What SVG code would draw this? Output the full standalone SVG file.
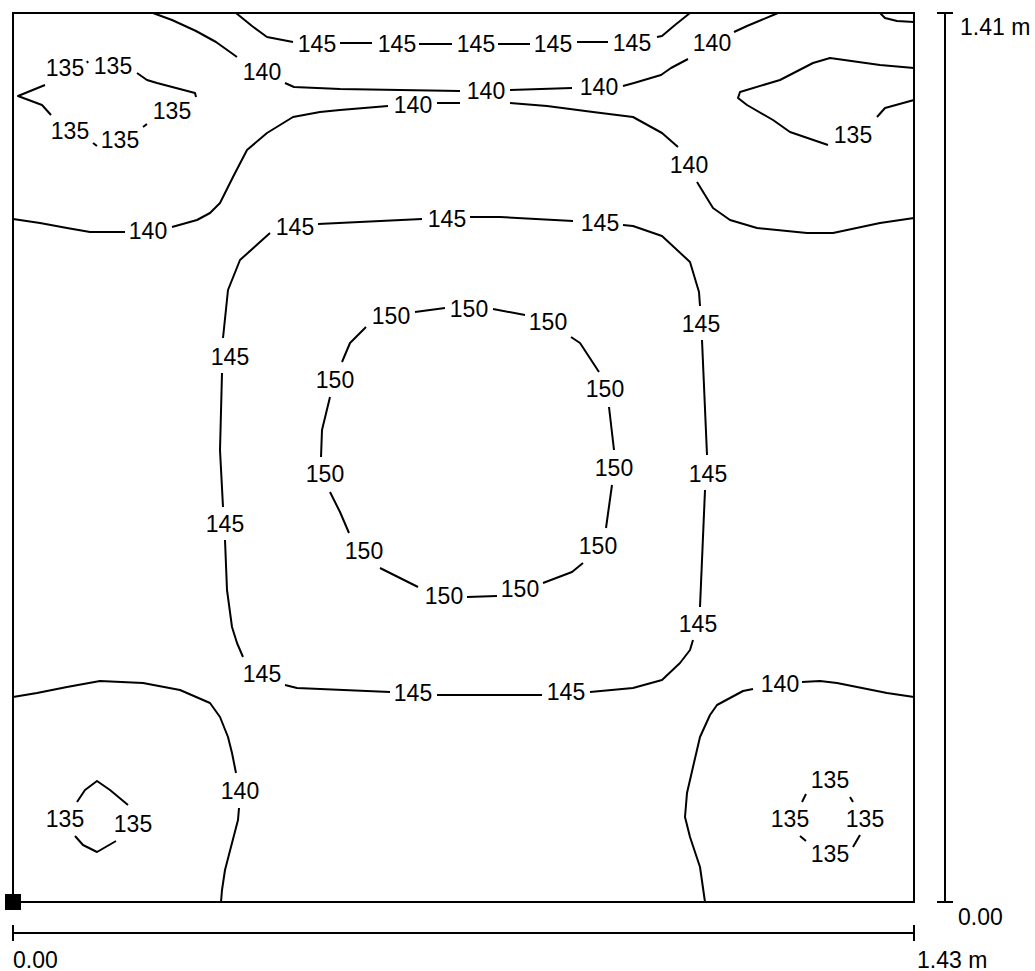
<svg xmlns="http://www.w3.org/2000/svg" width="1035" height="971" viewBox="0 0 1035 971">
<style>
.c{fill:none;stroke:#000;stroke-width:2;stroke-linejoin:round;stroke-linecap:butt}
.f{fill:none;stroke:#000;stroke-width:2}
text{font-family:"Liberation Sans",Arial,sans-serif;font-size:23px;fill:#000}
.l{text-anchor:middle}
</style>
<rect width="1035" height="971" fill="#fff"/>
<g id="frame">
<rect class="f" x="13" y="13" width="901" height="889"/>
<rect x="5" y="894" width="16" height="16" fill="#000"/>
</g>
<g id="contours">
<polyline class="c" points="153,13 172,20 196,31 216,42 237,57"/>
<polyline class="c" points="285,83 294,87 340,89 460,91"/>
<polyline class="c" points="510,90 572,88"/>
<polyline class="c" points="623,86 634,83 661,75 671,68 688,59"/>
<polyline class="c" points="734,32 747,26 778,13"/>
<polyline class="c" points="236,13 252,26 267,37 293,42"/>
<polyline class="c" points="340,43 372,43"/>
<polyline class="c" points="419,44 452,44"/>
<polyline class="c" points="498,44 530,44"/>
<polyline class="c" points="577,42 608,42"/>
<polyline class="c" points="657,37 662,36 675,25 690,13"/>
<polyline class="c" points="880,13 885,18 897,21 914,22"/>
<polyline class="c" points="13,219 40,223 67,228 90,232 125,232"/>
<polyline class="c" points="172,227 197,220 210,213 220,203 233,177 247,150 267,133 293,117 320,112 340,110 388,106"/>
<polyline class="c" points="437,103 460,103"/>
<polyline class="c" points="510,103 547,106 593,112 633,117 662,133 678,147"/>
<polyline class="c" points="697,182 705,195 713,208 730,220 757,228 807,233 833,233 880,223 914,218"/>
<polyline class="c" points="914,68 880,65 830,58 813,63 780,80 740,92 738,98 747,105 773,120 790,132 828,145"/>
<polyline class="c" points="877,117 885,108 914,100"/>
<polyline class="c" points="45,85 18,96 42,105 51,115"/>
<polyline class="c" points="87,61 88,63"/>
<polyline class="c" points="137,73 147,80 157,83 195,93 196,97"/>
<polyline class="c" points="143,127 147,124"/>
<polyline class="c" points="93,143 97,146"/>
<polyline class="c" points="270,233 240,260 228,290 223,338"/>
<polyline class="c" points="222,373 220,450 223,507"/>
<polyline class="c" points="225,540 227,590 232,627 237,643 243,657"/>
<polyline class="c" points="285,685 297,688 390,692"/>
<polyline class="c" points="437,695 542,695"/>
<polyline class="c" points="590,692 633,688 662,680 680,663 690,650 693,640"/>
<polyline class="c" points="700,607 705,490"/>
<polyline class="c" points="707,455 702,340"/>
<polyline class="c" points="700,306 699,292 690,262 662,236 633,226 623,225"/>
<polyline class="c" points="573,221 500,217 470,217"/>
<polyline class="c" points="422,219 318,224"/>
<polyline class="c" points="366,327 350,343 342,362"/>
<polyline class="c" points="330,397 322,430 321,457"/>
<polyline class="c" points="330,492 340,512 349,533"/>
<polyline class="c" points="380,568 418,587"/>
<polyline class="c" points="467,597 497,596"/>
<polyline class="c" points="543,583 572,572 583,563"/>
<polyline class="c" points="606,528 612,485"/>
<polyline class="c" points="614,450 609,407"/>
<polyline class="c" points="599,372 580,343 571,337"/>
<polyline class="c" points="525,315 493,309"/>
<polyline class="c" points="445,308 415,312"/>
<polyline class="c" points="13,697 37,693 67,687 100,681 143,683 180,690 210,703 220,717 228,737 232,753 236,773"/>
<polyline class="c" points="239,808 238,820 232,843 225,870 222,890 221,902"/>
<polyline class="c" points="77,802 85,790 97,781 110,790 128,805"/>
<polyline class="c" points="75,836 83,845 97,852 116,841"/>
<polyline class="c" points="802,682 820,681 837,683 887,693 914,697"/>
<polyline class="c" points="753,689 743,691 717,705 710,715 700,737 693,767 687,793 685,817 690,837 700,867 705,902"/>
<polyline class="c" points="802,802 806,794"/>
<polyline class="c" points="850,797 853,802"/>
<polyline class="c" points="800,836 806,841"/>
<polyline class="c" points="860,835 853,847"/>
</g>
<g id="labels" class="l">
<text x="262" y="80">140</text>
<text x="486" y="99">140</text>
<text x="599" y="95">140</text>
<text x="712" y="51">140</text>
<text x="148" y="239">140</text>
<text x="413" y="113">140</text>
<text x="689" y="173">140</text>
<text x="240" y="799">140</text>
<text x="780" y="692">140</text>
<text x="317" y="52">145</text>
<text x="397" y="52">145</text>
<text x="476" y="52">145</text>
<text x="553" y="52">145</text>
<text x="632" y="51">145</text>
<text x="295" y="235">145</text>
<text x="447" y="227">145</text>
<text x="600" y="231">145</text>
<text x="701" y="332">145</text>
<text x="708" y="482">145</text>
<text x="698" y="632">145</text>
<text x="566" y="700">145</text>
<text x="413" y="701">145</text>
<text x="262" y="682">145</text>
<text x="225" y="532">145</text>
<text x="230" y="365">145</text>
<text x="391" y="324">150</text>
<text x="469" y="317">150</text>
<text x="548" y="330">150</text>
<text x="605" y="397">150</text>
<text x="614" y="476">150</text>
<text x="598" y="554">150</text>
<text x="520" y="597">150</text>
<text x="444" y="604">150</text>
<text x="364" y="559">150</text>
<text x="325" y="482">150</text>
<text x="335" y="388">150</text>
<text x="65" y="76">135</text>
<text x="113" y="74">135</text>
<text x="172" y="119">135</text>
<text x="120" y="148">135</text>
<text x="70" y="139">135</text>
<text x="853" y="143">135</text>
<text x="65" y="827">135</text>
<text x="133" y="832">135</text>
<text x="830" y="788">135</text>
<text x="790" y="827">135</text>
<text x="865" y="827">135</text>
<text x="830" y="862">135</text>
</g>
<g id="scales">
<line class="f" x1="945" y1="12" x2="945" y2="902"/>
<line class="f" x1="937" y1="13" x2="953" y2="13"/>
<line class="f" x1="937" y1="902" x2="953" y2="902"/>
<text x="960" y="35">1.41 m</text>
<text x="958" y="925">0.00</text>
<line class="f" x1="13" y1="933" x2="914" y2="933"/>
<line class="f" x1="13" y1="925" x2="13" y2="941"/>
<line class="f" x1="914" y1="925" x2="914" y2="941"/>
<text x="13" y="968">0.00</text>
<text x="917" y="968">1.43 m</text>
</g>
</svg>
